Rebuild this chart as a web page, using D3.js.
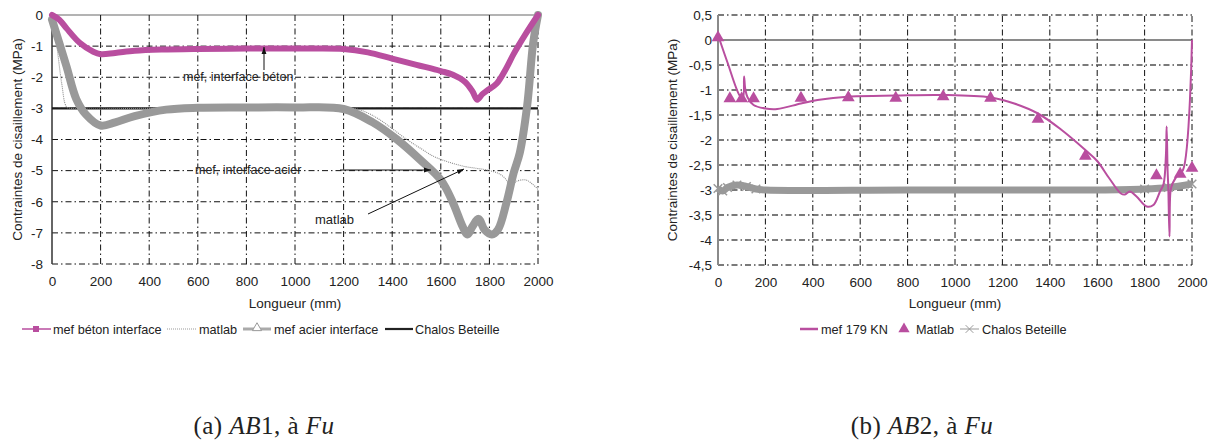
<!DOCTYPE html>
<html><head><meta charset="utf-8">
<script src="https://cdn.jsdelivr.net/npm/d3@7"></script>
<style>
html,body{margin:0;padding:0;background:#fff;}
svg{display:block;font-family:"Liberation Sans",Arial,sans-serif;}
</style></head>
<body>
<svg id="c" width="1212" height="441"></svg>
<script>
// ---------- DATA ----------
// Panel (a) AB1
const xTicks = [0,200,400,600,800,1000,1200,1400,1600,1800,2000];
const aYTicks = [0,-1,-2,-3,-4,-5,-6,-7,-8];
const aBetonX = [0,30,60,115,170,200,260,340,450,600,800,1000,1200,1300,1400,1500,1600,1650,1700,1730,1750,1770,1790,1830,1870,1900,1950,2000];
const aBetonY = [0,-0.15,-0.43,-0.9,-1.18,-1.26,-1.22,-1.15,-1.11,-1.09,-1.08,-1.08,-1.09,-1.2,-1.4,-1.6,-1.8,-1.92,-2.15,-2.45,-2.72,-2.55,-2.43,-2.2,-1.7,-1.25,-0.6,0];
const aMatlabX = [0,20,40,60,80,400,1000,1240,1300,1350,1400,1460,1520,1570,1630,1694,1750,1790,1840,1870,1885,1900,1912,1950,1975,2000];
const aMatlabY = [0,-1.0,-2.2,-2.95,-3.0,-3.0,-3.0,-3.0,-3.15,-3.37,-3.65,-4.0,-4.3,-4.54,-4.72,-4.86,-4.93,-4.98,-5.1,-5.3,-5.55,-5.42,-5.34,-5.3,-5.42,-5.6];
const aAcierX = [0,30,60,100,140,200,260,340,470,600,800,1000,1200,1320,1420,1515,1600,1650,1690,1710,1730,1755,1780,1810,1835,1870,1900,1925,1955,1980,2000];
const aAcierY = [-0.15,-0.9,-1.66,-2.7,-3.2,-3.55,-3.45,-3.25,-3.04,-2.98,-2.97,-2.97,-3.02,-3.45,-4.0,-4.65,-5.3,-6.03,-6.8,-7.05,-6.8,-6.55,-6.9,-7.05,-6.9,-6.04,-5.07,-4.43,-2.94,-0.91,0];
const aChalosX = [0,2000];
const aChalosY = [-3,-3];

// Panel (b) AB2
const bYTicks = [0.5,0,-0.5,-1,-1.5,-2,-2.5,-3,-3.5,-4,-4.5];
const bMefX = [0,40,90,105,110,115,125,150,200,250,350,420,560,750,950,1150,1250,1350,1450,1550,1600,1650,1700,1717,1738,1766,1809,1837,1865,1880,1890,1893,1897,1900,1905,1910,1920,1940,1962,2000];
const bMefY = [0.1,-0.45,-1.1,-1.17,-0.73,-0.98,-1.15,-1.3,-1.37,-1.38,-1.27,-1.2,-1.13,-1.11,-1.1,-1.15,-1.27,-1.47,-1.8,-2.2,-2.42,-2.76,-3.07,-3.09,-3.03,-3.13,-3.33,-3.3,-3.03,-2.88,-2.3,-1.73,-2.6,-2.95,-3.93,-3.0,-2.85,-2.7,-2.6,0];
const bMatlabX = [0,50,100,150,350,550,750,950,1150,1350,1550,1850,1950,2000];
const bMatlabY = [0.05,-1.17,-1.17,-1.17,-1.16,-1.15,-1.16,-1.13,-1.16,-1.58,-2.32,-2.71,-2.68,-2.56];
const bChalosX = [0,20,40,80,120,160,200,800,1600,1800,1900,2000];
const bChalosY = [-2.97,-3.02,-2.95,-2.9,-2.93,-2.98,-3.0,-3.0,-3.0,-2.98,-2.95,-2.88];

const legendA = ["mef béton interface","matlab","mef acier interface","Chalos Beteille"];
const legendB = ["mef 179 KN","Matlab","Chalos Beteille"];
const yTitle = "Contraintes de cisaillement (MPa)";
const xTitle = "Longueur (mm)";

// ---------- STYLE ----------
const MAG = "#b94e9f", GRAY = "#999999";
const svg = d3.select("#c");
const defs = svg.append("defs");
defs.append("marker").attr("id","arr").attr("viewBox","0 0 10 10").attr("refX",10).attr("refY",5)
  .attr("markerWidth",7).attr("markerHeight",7).attr("orient","auto-start-reverse").attr("markerUnits","userSpaceOnUse")
  .append("path").attr("d","M0,1.5 L10,5 L0,8.5 z").attr("fill","#111");

const zip = (xs,ys)=>xs.map((x,i)=>[x,ys[i]]);
const DASH = "6,3,1.5,3";

function panel(o){
  const g = svg.append("g");
  const x = d3.scaleLinear().domain([0,2000]).range(o.xr);
  const y = d3.scaleLinear().domain(o.yd).range(o.yr);
  g.append("g").selectAll("line").data(o.yTicks).join("line")
    .attr("x1",x(0)).attr("x2",x(2000)).attr("y1",d=>y(d)).attr("y2",d=>y(d))
    .attr("stroke",d=>d===0?o.zeroColor:o.hColor).attr("stroke-width",d=>d===0?o.zeroW:o.hW)
    .attr("stroke-dasharray",d=>d===0?null:DASH);
  g.append("g").selectAll("line").data(xTicks.filter(d=>d>0)).join("line")
    .attr("x1",d=>x(d)).attr("x2",d=>x(d)).attr("y1",y(o.yd[0])).attr("y2",y(o.yd[1]))
    .attr("stroke","#111").attr("stroke-width",1).attr("stroke-dasharray",DASH);
  g.append("line").attr("x1",x(0)).attr("x2",x(0)).attr("y1",y(o.yd[0])).attr("y2",y(o.yd[1]))
    .attr("stroke",o.axisColor).attr("stroke-width",o.axisW);
  const ya = d3.axisLeft(y).tickValues(o.yTicks).tickSize(0).tickPadding(o.yPad)
    .tickFormat(d=>String(d).replace(".",","));
  const yg = g.append("g").attr("transform",`translate(${x(0)},0)`).call(ya);
  yg.select(".domain").remove();
  yg.selectAll("text").attr("font-size",13.5).attr("fill","#222").attr("font-family","Liberation Sans, Arial, sans-serif");
  const xa = d3.axisBottom(x).tickValues(xTicks).tickSize(0).tickPadding(12).tickFormat(d=>String(d));
  const xg = g.append("g").attr("transform",`translate(0,${y(o.yd[0])})`).call(xa);
  xg.select(".domain").remove();
  xg.selectAll("text").attr("font-size",13.5).attr("fill","#222").attr("font-family","Liberation Sans, Arial, sans-serif");
  g.append("text").attr("x",(o.xr[0]+o.xr[1])/2).attr("y",307.5).attr("text-anchor","middle")
    .attr("font-size",13.5).attr("fill","#222").text(xTitle);
  g.append("text").attr("transform",`translate(${o.ytx},${(o.yr[0]+o.yr[1])/2}) rotate(-90)`)
    .attr("text-anchor","middle").attr("dominant-baseline","middle").attr("font-size",13.5).attr("fill","#222").text(yTitle);
  return {g,x,y};
}

// ---------- PANEL A ----------
const A = panel({xr:[52,538], yd:[-8,0], yr:[264,15], yTicks:aYTicks, hColor:"#111", hW:1,
  zeroColor:"#9a9a9a", zeroW:1.5, axisColor:"#333", axisW:1.5, yPad:9, ytx:18});
const lineA = d3.line().x(d=>A.x(d[0])).y(d=>A.y(d[1])).curve(d3.curveCatmullRom.alpha(0.5));
A.g.append("path").attr("d",lineA(zip(aChalosX,aChalosY))).attr("fill","none").attr("stroke","#1a1a1a").attr("stroke-width",2.2);
A.g.append("path").attr("d",lineA(zip(aMatlabX,aMatlabY))).attr("fill","none").attr("stroke","#8a8a8a").attr("stroke-width",1.1).attr("stroke-dasharray","1,1");
A.g.append("path").attr("d",lineA(zip(aAcierX,aAcierY))).attr("fill","none").attr("stroke",GRAY).attr("stroke-width",8).attr("stroke-linejoin","round").attr("stroke-linecap","round");
A.g.append("path").attr("d",lineA(zip(aBetonX,aBetonY))).attr("fill","none").attr("stroke",MAG).attr("stroke-width",6).attr("stroke-linejoin","round").attr("stroke-linecap","round");

// annotations (a)
const ann = A.g.append("g").attr("font-size",12.5).attr("fill","#222");
ann.append("text").attr("x",183).attr("y",81).text("mef, interface béton");
ann.append("line").attr("x1",264).attr("y1",70).attr("x2",264).attr("y2",47).attr("stroke","#111").attr("stroke-width",1).attr("marker-end","url(#arr)");
ann.append("text").attr("x",195).attr("y",174).text("mef, interface acier");
ann.append("line").attr("x1",340).attr("y1",170).attr("x2",431).attr("y2",170).attr("stroke","#111").attr("stroke-width",1).attr("marker-end","url(#arr)");
ann.append("text").attr("x",315).attr("y",224).attr("font-size",13).text("matlab");
ann.append("line").attr("x1",368).attr("y1",214).attr("x2",464).attr("y2",169).attr("stroke","#111").attr("stroke-width",1).attr("marker-end","url(#arr)");

// legend (a)
const LF = 12.7;
const LA = A.g.append("g").attr("font-size",LF).attr("fill","#222");
const ly = 329;
LA.append("line").attr("x1",22).attr("x2",51).attr("y1",ly).attr("y2",ly).attr("stroke",MAG).attr("stroke-width",1.5);
LA.append("rect").attr("x",33).attr("y",ly-3).attr("width",6).attr("height",6).attr("fill",MAG);
LA.append("text").attr("x",53).attr("y",ly+4.5).text(legendA[0]);
LA.append("line").attr("x1",167).attr("x2",196).attr("y1",ly).attr("y2",ly).attr("stroke","#999").attr("stroke-width",1.2).attr("stroke-dasharray","1,1");
LA.append("text").attr("x",199).attr("y",ly+4.5).text(legendA[1]);
LA.append("line").attr("x1",243).attr("x2",271).attr("y1",ly).attr("y2",ly).attr("stroke","#aaa").attr("stroke-width",3);
LA.append("path").attr("d",d3.symbol(d3.symbolTriangle,36)()).attr("transform",`translate(257,${ly-1})`).attr("fill","#fff").attr("stroke","#999").attr("stroke-width",1);
LA.append("text").attr("x",274).attr("y",ly+4.5).text(legendA[2]);
LA.append("line").attr("x1",385).attr("x2",413).attr("y1",ly).attr("y2",ly).attr("stroke","#222").attr("stroke-width",2.2);
LA.append("text").attr("x",415).attr("y",ly+4.5).text(legendA[3]);

// ---------- PANEL B ----------
const B = panel({xr:[718,1192], yd:[-4.5,0.5], yr:[265,15], yTicks:bYTicks, hColor:"#7a7a7a", hW:1.8,
  zeroColor:"#8a8a8a", zeroW:2, axisColor:"#8a8a8a", axisW:2, yPad:6, ytx:673});
const lineB = d3.line().x(d=>B.x(d[0])).y(d=>B.y(d[1])).curve(d3.curveCatmullRom.alpha(0.5));
B.g.append("path").attr("d",lineB(zip(bChalosX,bChalosY))).attr("fill","none").attr("stroke",GRAY).attr("stroke-width",7).attr("stroke-linejoin","round");
B.g.append("g").selectAll("path").data(zip(bChalosX,bChalosY).filter((d,i)=>i<6||i>8)).join("path")
  .attr("d",d3.symbol(d3.symbolTimes,50)()).attr("transform",d=>`translate(${B.x(d[0])},${B.y(d[1])})`)
  .attr("fill","none").attr("stroke",GRAY).attr("stroke-width",1.5);
B.g.append("path").attr("d",lineB(zip(bMefX,bMefY))).attr("fill","none").attr("stroke",MAG).attr("stroke-width",2).attr("stroke-linejoin","round");
B.g.append("g").selectAll("path").data(zip(bMatlabX,bMatlabY)).join("path")
  .attr("d",d3.symbol(d3.symbolTriangle,70)()).attr("transform",d=>`translate(${B.x(d[0])},${B.y(d[1])})`)
  .attr("fill",MAG);

// legend (b)
const LB = B.g.append("g").attr("font-size",LF).attr("fill","#222");
LB.append("line").attr("x1",800).attr("x2",818).attr("y1",ly).attr("y2",ly).attr("stroke",MAG).attr("stroke-width",2.5);
LB.append("text").attr("x",821).attr("y",ly+4.5).text(legendB[0]);
LB.append("path").attr("d",d3.symbol(d3.symbolTriangle,55)()).attr("transform",`translate(904,${ly})`).attr("fill",MAG);
LB.append("text").attr("x",916).attr("y",ly+4.5).text(legendB[1]);
LB.append("line").attr("x1",960).attr("x2",979).attr("y1",ly).attr("y2",ly).attr("stroke","#999").attr("stroke-width",1);
LB.append("path").attr("d",d3.symbol(d3.symbolTimes,40)()).attr("transform",`translate(969.5,${ly})`).attr("fill","none").attr("stroke","#999").attr("stroke-width",1);
LB.append("text").attr("x",982).attr("y",ly+4.5).text(legendB[2]);

// ---------- CAPTIONS ----------
function caption(cx, letter, num){
  const t = svg.append("text").attr("x",cx).attr("y",434).attr("text-anchor","middle")
    .attr("font-family","'Liberation Serif','Times New Roman',serif").attr("font-size",25)
    .attr("letter-spacing",0.5).attr("fill","#222");
  t.append("tspan").text(`(${letter}) `);
  t.append("tspan").attr("font-style","italic").text("AB");
  t.append("tspan").text(`${num}, à `);
  t.append("tspan").attr("font-style","italic").text("Fu");
}
caption(264,"a","1");
caption(922,"b","2");
</script>
</body></html>
